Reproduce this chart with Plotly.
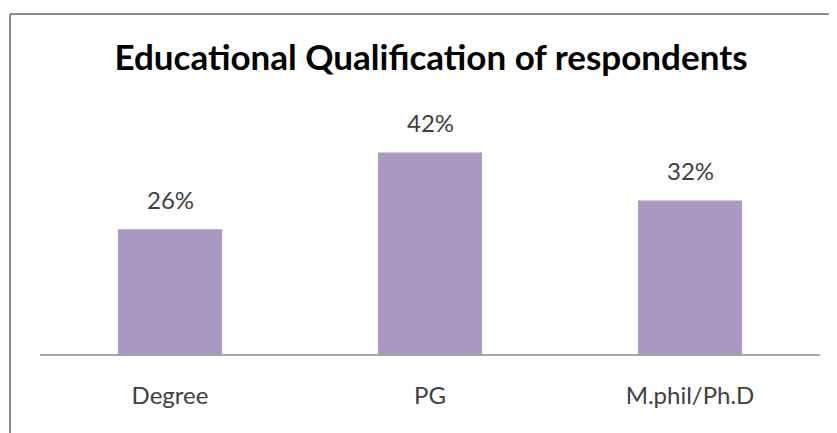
import plotly.graph_objects as go

categories = ["Degree", "PG", "M.phil/Ph.D"]
values = [26, 42, 32]
labels = ["26%", "42%", "32%"]

# the page adds an 8px body margin, so figure pixel coords are offset by -8
OFF = 8
W, H = 837, 433
L, R, T, B = 40 - OFF, 25, 114 - OFF, 433 - (354 - OFF)
pw = W - L - R
ph = H - T - B

def px_x(x):
    return (x - OFF - L) / pw

def px_y(y):
    return (H - B - (y - OFF)) / ph

FONT = "Lato, Open Sans, sans-serif"

fig = go.Figure()
fig.add_trace(go.Bar(
    x=categories, y=values,
    marker=dict(color="#A799C1", line=dict(width=0)),
    width=0.4,
    hoverinfo="skip",
))

for c, v, t in zip(categories, values, labels):
    fig.add_annotation(x=c, y=v, text=t, showarrow=False, yanchor="bottom", yshift=13,
                       font=dict(family=FONT, size=24, color="#404040"))

border = "#8C8C8C"
fig.add_shape(type="line", xref="paper", yref="paper", x0=px_x(10), x1=px_x(845), y0=px_y(14), y1=px_y(14),
              line=dict(color=border, width=2))
fig.add_shape(type="line", xref="paper", yref="paper", x0=px_x(10), x1=px_x(10), y0=px_y(14), y1=px_y(445),
              line=dict(color=border, width=2))

fig.update_layout(
    width=W, height=H,
    margin=dict(l=L, r=R, t=T, b=B),
    paper_bgcolor="white", plot_bgcolor="white",
    showlegend=False,
    title=dict(text="<b>Educational Qualification of respondents</b>", x=(431 - OFF) / W, xanchor="center",
               y=1 - (58 - OFF) / H, yanchor="middle",
               font=dict(family=FONT, size=35, color="#000000")),
    xaxis=dict(showline=True, linecolor="#A6A6A6", linewidth=1.5, ticks="", showgrid=False,
               tickfont=dict(family=FONT, size=24, color="#404040"),
               ticklabelstandoff=19, fixedrange=True),
    yaxis=dict(range=[0, 50], visible=False, showgrid=False, fixedrange=True),
    bargap=0.6,
)

fig.write_html("out.html")
